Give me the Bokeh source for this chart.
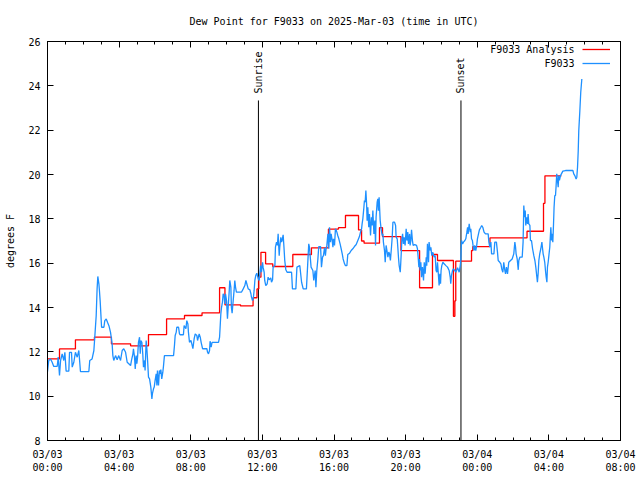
import math
from datetime import datetime, timedelta

from bokeh.plotting import figure
from bokeh.models import (Range1d, FixedTicker, DatetimeAxis, LinearAxis, Label,
                          Legend, LegendItem)
from bokeh.core.properties import value
from bokeh.embed import file_html
from bokeh.resources import INLINE

# ---------------- data (hours after 2025-03-03 00:00 UTC, dew point degF) -------------
title_text = "Dew Point for F9033 on 2025-Mar-03 (time in UTC)"
y_label = "degrees F"
series_names = ["F9033 Analysis", "F9033"]

x_tick_hours = [0, 4, 8, 12, 16, 20, 24, 28, 32]
x_tick_labels = ["03/03\n00:00", "03/03\n04:00", "03/03\n08:00", "03/03\n12:00",
                 "03/03\n16:00", "03/03\n20:00", "03/04\n00:00", "03/04\n04:00",
                 "03/04\n08:00"]
x_minor_hours = list(range(0, 33))
y_ticks = [8, 10, 12, 14, 16, 18, 20, 22, 24, 26]

event_names = ["Sunrise", "Sunset"]
event_hours = [11.78, 23.09]
event_line_top = 23.34
event_text_y = 23.65

# analysis (step) series
analysis_hours = [0.00, 0.67, 1.56, 2.62, 3.57, 4.64, 5.64, 6.65, 7.65, 8.63, 9.61, 9.91,
                  10.78, 11.48, 11.70, 11.80, 11.92, 12.18, 12.58, 13.70, 14.74, 15.69,
                  16.25, 16.64, 17.37, 17.54, 17.68, 18.54, 18.71, 19.74, 20.78, 21.50,
                  21.78, 22.67, 22.75, 22.80, 23.68, 23.75, 24.71, 26.78, 27.70, 27.78,
                  28.70]
analysis_vals = [11.68, 12.13, 12.54, 12.66, 12.36, 12.27, 12.78, 13.49, 13.64, 13.76,
                 14.89, 14.12, 14.07, 14.44, 14.84, 15.37, 16.49, 15.97, 15.85, 16.39,
                 16.69, 17.54, 17.60, 18.15, 17.50, 17.00, 16.90, 17.60, 17.20, 16.57,
                 14.89, 16.39, 16.12, 13.60, 14.30, 16.09, 16.57, 16.75, 17.14, 17.44,
                 18.70, 19.94, 19.94]

# station observations (hour, value)
obs_00_05 = [(0.00, 11.11), (0.07, 11.61), (0.17, 11.68), (0.26, 11.53), (0.35, 11.34),
             (0.54, 11.34), (0.60, 11.76), (0.67, 10.93), (0.73, 11.61), (0.82, 11.91),
             (0.91, 11.61), (0.97, 11.98), (1.04, 11.13), (1.19, 11.13), (1.23, 11.98),
             (1.34, 11.98), (1.38, 11.31), (1.47, 11.53), (1.56, 11.98), (1.66, 11.76),
             (1.75, 12.06), (1.84, 11.11), (2.31, 11.11), (2.36, 11.61), (2.49, 11.68),
             (2.59, 12.06), (2.64, 12.66), (2.72, 13.64), (2.77, 14.84), (2.81, 15.40),
             (2.87, 15.07), (2.90, 14.77), (2.94, 14.31), (3.02, 13.11), (3.15, 13.11),
             (3.20, 13.41), (3.28, 13.48), (3.35, 13.33), (3.43, 13.18), (3.52, 12.88),
             (3.61, 12.36), (3.65, 11.83), (3.70, 11.61), (3.80, 11.83), (3.89, 11.64),
             (3.98, 11.83), (4.08, 11.61), (4.17, 12.06), (4.26, 12.14), (4.36, 11.98),
             (4.45, 11.53), (4.54, 11.46), (4.64, 11.38), (4.69, 11.61), (4.77, 11.91)]
obs_05_10 = [(4.80, 12.14), (4.86, 11.76), (4.90, 11.23), (4.95, 11.83), (4.99, 11.46),
             (5.03, 11.76), (5.08, 12.43), (5.14, 12.66), (5.18, 11.91), (5.21, 12.51),
             (5.27, 12.43), (5.32, 11.91), (5.36, 11.31), (5.42, 11.61), (5.45, 11.16),
             (5.51, 12.51), (5.55, 12.14), (5.59, 11.61), (5.64, 10.86), (5.70, 10.78),
             (5.77, 10.41), (5.83, 9.88), (5.86, 10.11), (5.92, 10.33), (5.96, 10.41),
             (6.01, 10.71), (6.07, 11.01), (6.11, 10.48), (6.14, 11.16), (6.20, 10.48),
             (6.25, 11.16), (6.29, 11.01), (6.33, 11.20), (6.38, 10.78), (6.44, 11.08),
             (6.48, 11.38), (6.53, 11.83), (6.57, 11.83), (7.04, 11.83), (7.09, 12.28),
             (7.13, 12.74), (7.19, 12.89), (7.22, 13.11), (7.32, 13.11), (7.37, 12.81),
             (7.41, 12.77), (7.59, 12.77), (7.63, 13.19), (7.73, 13.04), (7.78, 13.41),
             (7.84, 13.26), (7.87, 12.89), (7.93, 12.43), (8.01, 12.51), (8.06, 12.36),
             (8.12, 12.14), (8.19, 12.59), (8.25, 12.81), (8.34, 12.74), (8.38, 12.51),
             (8.47, 12.81), (8.53, 12.66), (8.58, 12.43), (8.66, 12.14), (8.90, 12.14),
             (8.94, 11.98), (8.99, 11.91), (9.05, 12.06), (9.08, 12.48), (9.14, 12.21),
             (9.19, 12.43), (9.27, 12.43), (9.55, 12.43), (9.61, 12.66), (9.64, 13.11),
             (9.68, 13.71)]
obs_10_15 = [(9.72, 14.01), (9.77, 14.24), (9.81, 14.62), (9.87, 14.47), (9.90, 14.16),
             (9.94, 14.62), (10.00, 14.31), (10.05, 13.49), (10.09, 14.01), (10.15, 14.77),
             (10.18, 15.22), (10.24, 14.92), (10.27, 14.01), (10.31, 13.74), (10.37, 14.31),
             (10.42, 14.77), (10.46, 15.22), (10.50, 14.92), (10.55, 14.69), (10.83, 14.69),
             (10.93, 14.84), (11.02, 14.99), (11.08, 15.22), (11.13, 15.07), (11.21, 14.84),
             (11.30, 14.80), (11.36, 14.62), (11.39, 14.47), (11.45, 14.31), (11.50, 14.47),
             (11.54, 14.77), (11.58, 15.22), (11.63, 15.44), (11.69, 15.55), (11.77, 15.29),
             (11.82, 15.22), (11.90, 15.89), (11.95, 15.59), (12.01, 16.04), (12.04, 15.82),
             (12.10, 15.59), (12.13, 15.22), (12.19, 14.99), (12.27, 15.07), (12.32, 15.37),
             (12.38, 15.25), (12.47, 15.34), (12.51, 15.14), (12.57, 15.25), (12.60, 15.82),
             (12.70, 15.89), (12.73, 16.72), (12.79, 16.95), (12.84, 16.80), (12.88, 17.32),
             (12.94, 16.34), (12.97, 16.72), (13.03, 17.17), (13.07, 16.95), (13.10, 17.02),
             (13.16, 17.28), (13.20, 16.80), (13.25, 16.12), (13.31, 15.70), (13.38, 15.59),
             (13.63, 15.59), (13.68, 14.84), (13.87, 14.84), (13.93, 15.82), (14.09, 15.89),
             (14.19, 15.14), (14.28, 14.84), (14.46, 14.84), (14.59, 16.87)]
obs_15_20 = [(14.63, 16.72), (14.72, 15.82), (14.82, 15.67), (14.87, 15.22), (14.95, 15.67),
             (14.99, 14.92), (15.04, 15.67), (15.10, 16.19), (15.15, 16.75), (15.25, 16.75),
             (15.30, 15.82), (15.36, 16.27), (15.41, 16.34), (15.47, 16.69), (15.52, 16.34),
             (15.56, 16.65), (15.60, 16.80), (15.66, 17.32), (15.71, 16.65), (15.75, 17.62),
             (15.80, 16.95), (15.84, 17.32), (15.90, 17.02), (15.94, 16.72), (15.97, 17.10),
             (16.03, 16.80), (16.08, 17.55), (16.12, 17.50), (16.16, 17.40), (16.21, 17.25),
             (16.27, 17.10), (16.34, 16.87), (16.40, 16.65), (16.46, 16.42), (16.51, 16.19),
             (16.59, 15.97), (16.64, 15.89), (16.72, 15.89), (16.77, 16.39), (16.87, 16.45),
             (16.96, 16.57), (17.05, 16.65), (17.14, 16.75), (17.24, 16.84), (17.33, 17.02),
             (17.42, 17.20), (17.48, 17.40), (17.54, 17.55), (17.57, 17.77), (17.61, 18.00),
             (17.67, 18.52), (17.70, 18.83), (17.74, 18.75), (17.78, 19.28), (17.82, 18.68),
             (17.85, 17.92), (17.89, 18.52), (17.94, 17.62), (17.98, 18.22), (18.04, 17.25),
             (18.09, 18.07), (18.13, 17.70), (18.17, 18.37), (18.23, 17.32), (18.28, 17.92),
             (18.32, 16.80), (18.35, 18.07), (18.41, 18.75), (18.45, 18.90), (18.48, 18.37),
             (18.52, 18.97), (18.58, 17.92), (18.63, 17.55), (18.69, 17.25), (18.73, 17.32),
             (18.76, 16.95), (18.82, 16.57), (18.86, 16.04), (18.91, 16.80), (18.97, 16.50),
             (19.01, 16.27), (19.06, 16.50), (19.10, 16.42), (19.15, 16.12), (19.21, 16.72),
             (19.25, 17.17), (19.29, 17.85), (19.38, 17.85), (19.44, 17.70), (19.47, 17.17),
             (19.53, 17.10), (19.57, 16.65)]
obs_20_24 = [(19.60, 16.27), (19.64, 15.89), (19.70, 15.59), (19.73, 16.04), (19.79, 17.02),
             (19.83, 17.32), (19.88, 16.87), (19.92, 17.17), (19.97, 16.80), (20.03, 17.55),
             (20.07, 17.02), (20.12, 17.40), (20.16, 16.87), (20.22, 17.32), (20.25, 16.80),
             (20.29, 17.02), (20.33, 17.50), (20.38, 17.02), (20.42, 16.80), (20.51, 16.84),
             (20.61, 16.80), (20.66, 16.65), (20.70, 16.27), (20.74, 15.82), (20.77, 16.19),
             (20.81, 15.67), (20.85, 16.04), (20.89, 15.37), (20.94, 15.82), (21.00, 15.22),
             (21.04, 16.04), (21.09, 15.52), (21.15, 16.27), (21.18, 15.89), (21.22, 16.87),
             (21.28, 16.04), (21.31, 16.95), (21.37, 16.57), (21.41, 16.72), (21.46, 16.34),
             (21.52, 16.49), (21.59, 16.27), (21.65, 16.34), (21.70, 15.67), (21.74, 15.59),
             (21.78, 16.04), (21.84, 15.37), (21.87, 14.99), (21.91, 15.52), (21.95, 15.07),
             (21.98, 15.67), (22.02, 15.89), (22.08, 16.04), (22.15, 15.97), (22.25, 15.89),
             (22.34, 15.82), (22.43, 15.67), (22.49, 15.37), (22.52, 15.07), (22.56, 15.44),
             (22.62, 15.67), (22.67, 15.74), (22.75, 15.67), (22.80, 15.59), (22.90, 15.79),
             (22.99, 15.59), (23.05, 15.89), (23.08, 16.12), (23.12, 17.02), (23.18, 16.87),
             (23.23, 16.95), (23.31, 17.02), (23.36, 17.10), (23.42, 17.40), (23.46, 17.62),
             (23.49, 17.32), (23.55, 17.77), (23.61, 17.40), (23.64, 17.55), (23.68, 17.10),
             (23.73, 17.02), (23.79, 16.65), (23.83, 16.57), (23.86, 16.80), (23.92, 16.57),
             (23.97, 16.80), (24.01, 17.10), (24.07, 17.32), (24.12, 17.50), (24.20, 17.62),
             (24.25, 17.70), (24.31, 17.62), (24.38, 17.40)]
obs_24_30 = [(24.46, 17.32), (24.61, 17.32), (24.65, 16.95), (24.70, 16.72), (24.76, 16.95),
             (24.80, 16.42), (24.93, 16.42), (24.98, 16.95), (25.07, 16.95), (25.13, 16.50),
             (25.17, 16.12), (25.26, 16.04), (25.32, 15.97), (25.37, 15.74), (25.43, 15.59),
             (25.48, 16.04), (25.54, 15.67), (25.58, 15.52), (25.63, 15.82), (25.69, 15.52),
             (25.76, 16.04), (25.86, 16.12), (25.95, 16.19), (26.04, 16.42), (26.10, 16.95),
             (26.14, 16.72), (26.17, 16.42), (26.23, 16.19), (26.29, 15.70), (26.32, 16.12),
             (26.38, 16.27), (26.51, 16.27), (26.56, 16.95), (26.60, 18.60), (26.64, 18.07),
             (26.68, 18.37), (26.71, 17.70), (26.77, 18.07), (26.81, 17.77), (26.84, 18.22),
             (26.88, 17.77), (26.94, 17.70), (26.97, 17.02), (27.03, 17.02), (27.09, 16.65),
             (27.16, 16.34), (27.22, 16.12), (27.27, 15.82), (27.33, 15.37), (27.36, 15.14),
             (27.40, 15.52), (27.44, 16.12), (27.49, 16.42), (27.55, 16.65), (27.61, 16.95),
             (27.64, 16.72), (27.68, 16.42), (27.72, 16.27), (27.77, 16.04), (27.81, 15.67),
             (27.85, 15.37), (27.89, 15.14), (27.92, 15.82), (27.96, 16.04), (28.00, 16.34),
             (28.05, 16.72), (28.11, 17.62), (28.15, 17.02), (28.18, 17.32), (28.22, 16.95),
             (28.26, 17.77), (28.29, 18.52), (28.33, 19.05), (28.37, 19.05), (28.40, 19.43),
             (28.44, 20.03), (28.48, 19.73), (28.52, 19.43), (28.55, 19.95), (28.59, 19.73),
             (28.65, 19.95), (28.70, 20.03), (28.78, 20.15), (28.93, 20.18), (29.12, 20.18),
             (29.26, 20.18), (29.34, 20.18), (29.39, 20.03), (29.45, 19.95), (29.52, 19.80),
             (29.56, 19.88), (29.60, 20.33), (29.64, 21.08), (29.67, 21.98), (29.73, 22.88),
             (29.78, 23.71), (29.84, 24.31)]

# ---------------- helpers ----------------
BASE = datetime(2025, 3, 3, 0, 0)
EPOCH = datetime(1970, 1, 1)


def t(h):
    return BASE + timedelta(hours=h)


def ms(h):
    return (t(h) - EPOCH).total_seconds() * 1000.0


obs_all = obs_00_05 + obs_05_10 + obs_10_15 + obs_15_20 + obs_20_24 + obs_24_30
obs_x = [t(h) for h, _ in obs_all]
obs_y = [v for _, v in obs_all]

FONT = "DejaVu Sans Mono"
FS = "10px"
RED = "#ff0000"
BLUE = "#1e90ff"
LW = 1.3

p = figure(width=640, height=480, x_axis_type="datetime", output_backend="svg",
           toolbar_location=None,
           x_range=Range1d(t(x_tick_hours[0]), t(x_tick_hours[-1])),
           y_range=Range1d(y_ticks[0], y_ticks[-1]),
           min_border_left=47, min_border_right=20, min_border_top=41,
           min_border_bottom=40)

p.background_fill_color = "white"
p.border_fill_color = "white"
p.outline_line_color = "black"
p.grid.visible = False

p.title.text = title_text
p.title.align = "center"
p.title.text_font = FONT
p.title.text_font_size = FS
p.title.text_font_style = "normal"
p.title.text_color = "black"
p.title.standoff = 26
p.title.vertical_align = "top"

x_ticker = FixedTicker(ticks=[ms(h) for h in x_tick_hours],
                       minor_ticks=[ms(h) for h in x_minor_hours])
y_ticker = FixedTicker(ticks=y_ticks, minor_ticks=[])

xa = p.xaxis[0]
xa.ticker = x_ticker
xa.major_label_overrides = {ms(h): lab for h, lab in zip(x_tick_hours, x_tick_labels)}
ya = p.yaxis[0]
ya.ticker = y_ticker
ya.axis_label = y_label

for ax in (xa, ya):
    ax.axis_line_color = "black"
    ax.major_tick_line_color = "black"
    ax.minor_tick_line_color = "black"
    ax.major_tick_in = 6
    ax.major_tick_out = 0
    ax.minor_tick_in = 3
    ax.minor_tick_out = 0
    ax.major_label_text_font = FONT
    ax.major_label_text_font_size = FS
    ax.major_label_text_color = "black"
    ax.axis_label_text_font = FONT
    ax.axis_label_text_font_size = FS
    ax.axis_label_text_font_style = "normal"
    ax.axis_label_text_color = "black"
xa.major_label_standoff = 8
ya.major_label_standoff = 7
ya.axis_label_standoff = 9

top = DatetimeAxis(ticker=x_ticker, major_label_text_font_size="1px",
                   major_label_text_color=None,
                   major_label_standoff=0, major_tick_in=6, major_tick_out=0,
                   minor_tick_in=3, minor_tick_out=0, axis_line_color="black",
                   major_tick_line_color="black", minor_tick_line_color="black")
p.add_layout(top, "above")
right = LinearAxis(ticker=y_ticker, major_label_text_font_size="1px",
                   major_label_text_color=None,
                   major_label_standoff=0, major_tick_in=6, major_tick_out=0,
                   minor_tick_in=0, minor_tick_out=0, axis_line_color="black",
                   major_tick_line_color="black")
p.add_layout(right, "right")

# sunrise / sunset markers
p.segment(x0=[t(h) for h in event_hours], y0=[y_ticks[0]] * len(event_hours),
          x1=[t(h) for h in event_hours], y1=[event_line_top] * len(event_hours),
          line_color="black", line_width=1)
p.text(x=[t(h) for h in event_hours], y=[event_text_y] * len(event_hours),
       text=event_names, angle=math.pi / 2, text_align="left", text_baseline="middle",
       text_font=value(FONT), text_font_size=FS, text_color="black")

# series
r_an = p.step([t(h) for h in analysis_hours], analysis_vals, mode="after",
              line_color=RED, line_width=LW)
r_ob = p.line(obs_x, obs_y, line_color=BLUE, line_width=LW)

legend = Legend(items=[LegendItem(label=" ", renderers=[r_an]),
                       LegendItem(label=" ", renderers=[r_ob])],
                location=(535, 370.5), glyph_width=28, glyph_height=14,
                label_height=14, label_width=0, label_standoff=0, padding=0,
                margin=0, spacing=0, border_line_color=None,
                background_fill_alpha=0, label_text_font_size="1px",
                label_text_color=None)
p.add_layout(legend)

for i, name in enumerate(series_names):
    p.add_layout(Label(x=527, y=391 - 14 * i, x_units="screen", y_units="screen",
                       text=name, text_align="right", text_baseline="middle",
                       text_font=FONT, text_font_size=FS, text_color="black"))

open("out.html", "w").write(file_html(p, INLINE))
